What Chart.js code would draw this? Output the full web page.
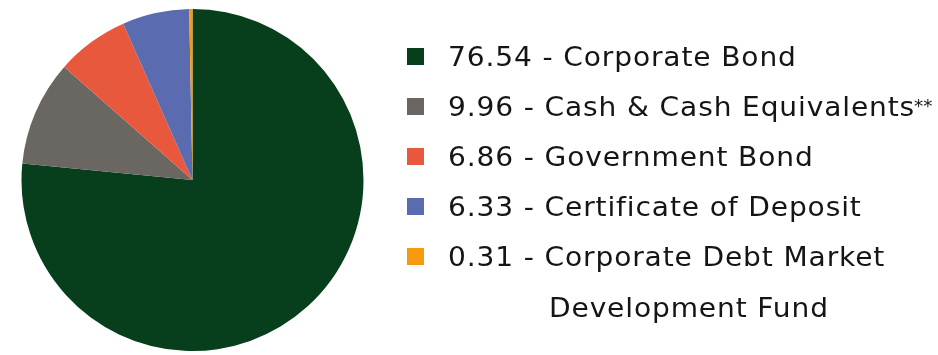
<!DOCTYPE html>
<html>
<head>
<meta charset="utf-8">
<script src="https://cdn.jsdelivr.net/npm/chart.js@4.4.0/dist/chart.umd.min.js"></script>
<style>
    html, body { margin: 0; padding: 0; background: #fff; }
    #wrap { width: 938px; height: 355px; }
</style>
</head>
<body>
<div id="wrap"><canvas id="allocChart" width="938" height="355"></canvas></div>
<script>
// portfolio allocation (%)
const categories = ['Corporate Bond', 'Cash & Cash Equivalents**', 'Government Bond', 'Certificate of Deposit', ['Corporate Debt Market', 'Development Fund']];
const shares = [76.54, 9.96, 6.86, 6.33, 0.31];
const sliceColors = ['#073f1c', '#6a6662', '#e7583d', '#5b6bb0', '#f7990c'];

const LEGEND_FONT = '26px "DejaVu Sans"';
const NOTE_FONT = '17px "DejaVu Sans"';

// one legend line, stretched a bit; trailing ** drawn as a small superscript
function drawLine(ctx, text, x, y) {
    let note = '';
    if (text.endsWith('**')) {
        note = '**';
        text = text.slice(0, -2);
    }
    ctx.save();
    ctx.translate(x, y);
    ctx.scale(1.08, 1);
    ctx.font = LEGEND_FONT;
    ctx.letterSpacing = '0.8px';
    ctx.fillText(text, 0, 0);
    if (note) {
        const w = ctx.measureText(text).width;
        ctx.font = NOTE_FONT;
        ctx.letterSpacing = '0px';
        ctx.fillText(note, w - 1, -4);
    }
    ctx.restore();
}

// draws the legend on the right side of the canvas
const sideLegend = {
    id: 'sideLegend',
    afterDraw(chart) {
        const ctx = chart.ctx;
        const x0 = 407, textX = 448, firstBase = 66, step = 50;
        ctx.save();
        ctx.textBaseline = 'alphabetic';
        let row = 0;
        shares.forEach((v, i) => {
            const base = firstBase + row * step;
            ctx.fillStyle = sliceColors[i];
            ctx.fillRect(x0, base - 18, 17, 17);
            ctx.fillStyle = '#151515';
            const lines = Array.isArray(categories[i]) ? categories[i] : [categories[i]];
            drawLine(ctx, v.toFixed(2) + ' - ' + lines[0], textX, base);
            row++;
            for (let k = 1; k < lines.length; k++) {
                drawLine(ctx, lines[k], 549, firstBase + row * step + 1);
                row++;
            }
        });
        ctx.restore();
    }
};

document.addEventListener('DOMContentLoaded', function() {
    const ctx = document.getElementById('allocChart').getContext('2d');
    new Chart(ctx, {
        type: 'pie',
        data: {
            labels: categories.map(c => Array.isArray(c) ? c.join(' ') : c),
            datasets: [{
                data: shares,
                backgroundColor: sliceColors,
                borderWidth: 0
            }]
        },
        options: {
            responsive: false,
            maintainAspectRatio: false,
            animation: false,
            layout: {
                padding: { left: 21, right: 574, top: 9, bottom: 4 }
            },
            plugins: {
                legend: { display: false },
                tooltip: { enabled: false }
            }
        },
        plugins: [sideLegend]
    });
});
</script>
</body>
</html>
